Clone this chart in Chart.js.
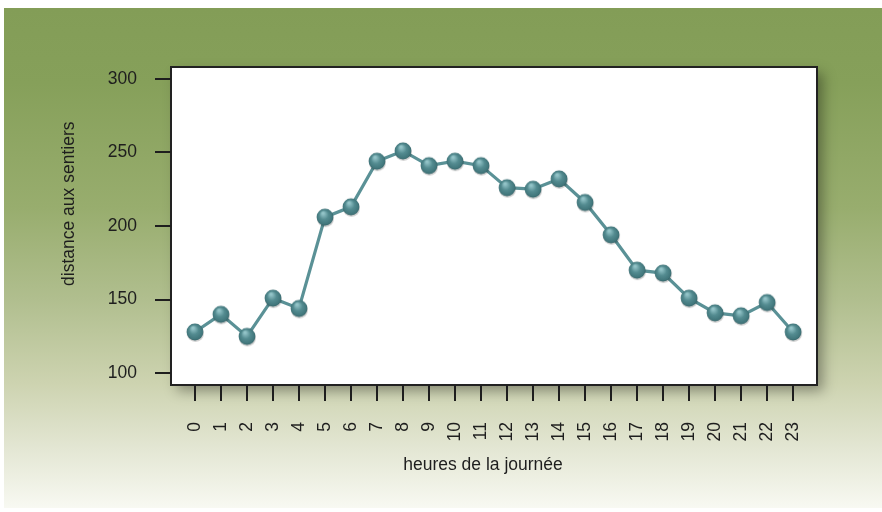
<!DOCTYPE html>
<html lang="fr">
<head>
    <meta charset="UTF-8">
    <title>Distance aux sentiers selon l'heure</title>
    <script src="https://cdn.jsdelivr.net/npm/chart.js"></script>
    <style>
        html, body {
            margin: 0;
            padding: 0;
            background: #ffffff;
        }
        .panneau {
            position: absolute;
            left: 4px;
            top: 8px;
            width: 878px;
            height: 500px;
            background: linear-gradient(180deg,
                #839d57 0%, #86a05a 15%, #98ad6e 40%, #b0be8e 58%,
                #cdd3b0 75%, #e3e6d3 88%, #f8f9f2 100%);
        }
    </style>
</head>
<body>
    <div class="panneau">
        <canvas id="graphique"></canvas>
    </div>
    <script>
        // heures de la journée et distance moyenne aux sentiers
        const heures = [0, 1, 2, 3, 4, 5, 6, 7, 8, 9, 10, 11, 12, 13, 14, 15, 16, 17, 18, 19, 20, 21, 22, 23];
        const distances = [128, 140, 125, 151, 144, 206, 213, 244, 251, 241, 244, 241,
                           226, 225, 232, 216, 194, 170, 168, 151, 141, 139, 148, 128];
        const ticksY = [100, 150, 200, 250, 300];
        const etiquettesX = heures.map(h => String(h));

        const police = "'Liberation Sans', Arial, sans-serif";
        const taille = 17.5;
        const encre = '#1e1e1e';

        // petite sphère ombrée utilisée comme symbole de point
        function creerBille() {
            const c = document.createElement('canvas');
            c.width = 22;
            c.height = 22;
            const g = c.getContext('2d');
            g.beginPath();
            g.arc(11.5, 12.5, 8.5, 0, Math.PI * 2);
            g.fillStyle = 'rgba(0, 0, 0, 0.18)';
            g.fill();
            const grad = g.createRadialGradient(9, 7, 1, 11, 11, 9);
            grad.addColorStop(0, '#92c3c7');
            grad.addColorStop(0.45, '#548c91');
            grad.addColorStop(0.85, '#41767b');
            grad.addColorStop(1, '#2c5559');
            g.beginPath();
            g.arc(11, 11, 8.4, 0, Math.PI * 2);
            g.fillStyle = grad;
            g.fill();
            return c;
        }

        // cadre blanc ombré, bordure et titres des axes
        const cadre = {
            id: 'cadre',
            beforeDraw(chart) {
                const a = chart.chartArea;
                const ctx = chart.ctx;
                ctx.save();
                ctx.shadowColor = 'rgba(0, 0, 0, 0.35)';
                ctx.shadowBlur = 12;
                ctx.shadowOffsetX = 6;
                ctx.shadowOffsetY = 6;
                ctx.fillStyle = '#ffffff';
                ctx.fillRect(a.left, a.top, a.right - a.left, a.bottom - a.top);
                ctx.restore();
                ctx.save();
                ctx.strokeStyle = '#222222';
                ctx.lineWidth = 2;
                ctx.strokeRect(a.left, a.top, a.right - a.left, a.bottom - a.top);
                ctx.restore();
            },
            afterDraw(chart) {
                const a = chart.chartArea;
                const ctx = chart.ctx;
                ctx.save();
                ctx.fillStyle = encre;
                ctx.font = taille + 'px ' + police;
                ctx.textAlign = 'center';
                ctx.textBaseline = 'middle';
                ctx.fillText('heures de la journée', a.left + (a.right - a.left) * 0.483, a.bottom + 80);
                ctx.translate(a.left - 102, a.top + (a.bottom - a.top) * 0.43);
                ctx.rotate(-Math.PI / 2);
                ctx.fillText('distance aux sentiers', 0, 0);
                ctx.restore();
            }
        };

        const ctx = document.getElementById('graphique').getContext('2d');
        new Chart(ctx, {
            type: 'line',
            data: {
                datasets: [{
                    data: heures.map((h, i) => ({ x: h, y: distances[i] })),
                    borderColor: '#5a9196',
                    borderWidth: 3.2,
                    tension: 0,
                    pointStyle: creerBille(),
                    pointRadius: 8,
                    pointHoverRadius: 8
                }]
            },
            options: {
                responsive: true,
                maintainAspectRatio: false,
                animation: false,
                events: [],
                layout: {
                    padding: { top: 59, right: 65, left: 0, bottom: 0 }
                },
                plugins: {
                    legend: { display: false },
                    tooltip: { enabled: false }
                },
                scales: {
                    x: {
                        type: 'linear',
                        min: -0.92,
                        max: 23.92,
                        afterBuildTicks: s => { s.ticks = heures.map(v => ({ value: v })); },
                        afterFit: s => { s.height = 123; },
                        border: { display: false },
                        grid: {
                            drawOnChartArea: false,
                            drawTicks: true,
                            tickLength: 16,
                            tickColor: '#1e1e1e',
                            lineWidth: 2
                        },
                        ticks: {
                            autoSkip: false,
                            minRotation: 90,
                            maxRotation: 90,
                            padding: 21,
                            color: encre,
                            font: { family: police, size: taille },
                            callback: (v, i) => etiquettesX[i]
                        }
                    },
                    y: {
                        min: 92,
                        max: 308,
                        afterBuildTicks: s => { s.ticks = ticksY.map(v => ({ value: v })); },
                        afterFit: s => { s.width = 167; },
                        border: { display: false },
                        grid: {
                            drawOnChartArea: false,
                            drawTicks: true,
                            tickLength: 16,
                            tickColor: '#1e1e1e',
                            lineWidth: 2
                        },
                        ticks: {
                            padding: 18,
                            color: encre,
                            font: { family: police, size: taille }
                        }
                    }
                }
            },
            plugins: [cadre]
        });
    </script>
</body>
</html>
